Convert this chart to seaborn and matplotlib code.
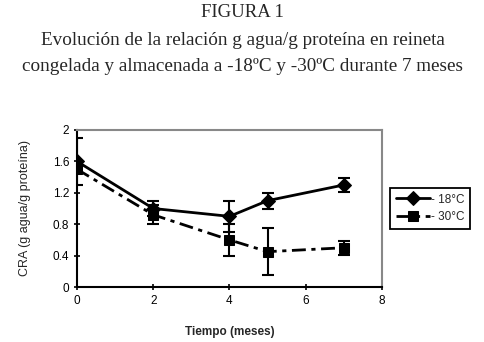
import pandas as pd
import seaborn as sns
import matplotlib.pyplot as plt

meses = [0, 2, 4, 5, 7]
cra_18 = [1.6, 1.0, 0.9, 1.1, 1.3]
err_18 = [0.3, 0.1, 0.2, 0.1, 0.09]
cra_30 = [1.5, 0.92, 0.6, 0.45, 0.5]
err_30 = [0.05, 0.12, 0.2, 0.3, 0.09]

df = pd.DataFrame({
    'Tiempo': meses * 2,
    'CRA': cra_18 + cra_30,
    'err': err_18 + err_30,
    'serie': ['- 18°C'] * len(meses) + ['- 30°C'] * len(meses),
})

sns.set_style('white')
plt.rcParams['font.family'] = ['Liberation Sans', 'DejaVu Sans']

fig = plt.figure(figsize = (4.85, 3.42), dpi = 100)
ax = fig.add_axes([77 / 485, 55 / 342, 305 / 485, 157 / 342])

sns.lineplot(
    data = df, x = 'Tiempo', y = 'CRA', style = 'serie', markers = {'- 18°C': 'D', '- 30°C': 's'},
    dashes = {'- 18°C': '', '- 30°C': (5, 2, 1.5, 2)}, color = 'black', linewidth = 2,
    markersize = 7, markeredgecolor = 'black', ax = ax
)

for serie in ['- 18°C', '- 30°C']:
    sub = df[df['serie'] == serie]
    ax.errorbar(sub['Tiempo'], sub['CRA'], yerr = sub['err'], fmt = 'none',
                ecolor = 'black', elinewidth = 1.5, capsize = 4, capthick = 1.5)

ax.set_xlim(0, 8)
ax.set_ylim(0, 2)
ax.set_xticks([0, 2, 4, 6, 8])
ax.set_yticks([0, 0.4, 0.8, 1.2, 1.6, 2])
ax.set_yticklabels(['0', '0.4', '0.8', '1.2', '1.6', '2'])
ax.tick_params(direction = 'inout', length = 5, width = 1.2, labelsize = 8.5, colors = 'black',
               left = True, bottom = True, pad = 3)
for side in ['left', 'bottom']:
    ax.spines[side].set_color('black')
    ax.spines[side].set_linewidth(1.5)
for side in ['top', 'right']:
    ax.spines[side].set_color('#888888')
    ax.spines[side].set_linewidth(1.5)

ax.set_xlabel('Tiempo (meses)', fontsize = 8.5, fontweight = 'bold', labelpad = 14)
ax.set_ylabel('CRA (g agua/g proteína)', fontsize = 9, labelpad = 16)

leg = ax.legend(loc = 'center left', bbox_to_anchor = (1.02, 0.5), frameon = True, fancybox = False,
                edgecolor = 'black', fontsize = 8.5, handlelength = 2.9, borderpad = 0.45,
                labelspacing = 0.5, handletextpad = 0.1, borderaxespad = 0.2, framealpha = 1)
leg.get_frame().set_linewidth(1.3)

serif = ['Liberation Serif', 'DejaVu Serif']
fig.text(0.5, 0.962, 'FIGURA 1', ha = 'center', va = 'center', fontsize = 13.5, family = serif)
fig.text(0.5, 0.882, 'Evolución de la relación g agua/g proteína en reineta', ha = 'center',
         va = 'center', fontsize = 13.8, family = serif)
fig.text(0.5, 0.805, 'congelada y almacenada a -18ºC y -30ºC durante 7 meses', ha = 'center',
         va = 'center', fontsize = 13.8, family = serif)

fig.savefig('out.png', dpi = 100)
